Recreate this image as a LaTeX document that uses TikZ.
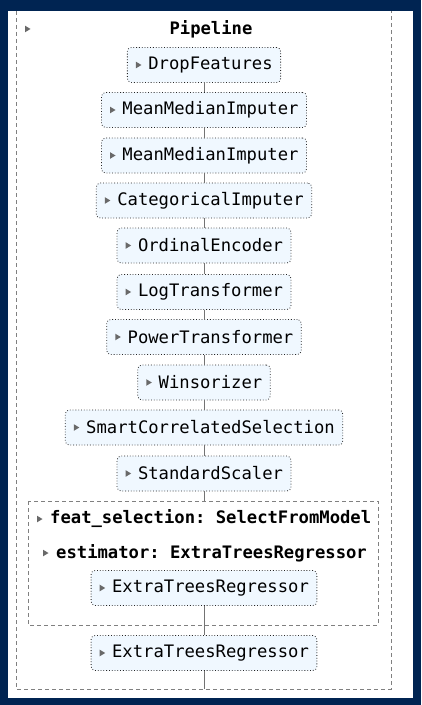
\documentclass[tikz,border=0pt]{standalone}
\usepackage{fontspec}
\setmonofont{DejaVu Sans Mono}
\usepackage{tikz}
\usetikzlibrary{calc}
\definecolor{navy}{RGB}{0,36,82}
\definecolor{boxfill}{RGB}{240,248,255}
\definecolor{trigray}{RGB}{105,105,105}
\def\gap{\hspace*{13bp}}
\def\tri#1{\fill[trigray, shift={(#1)}] (0,-3.3) -- (5.5,0) -- (0,3.3) -- cycle;}
\tikzset{
	stepbox/.style={draw=black!85, dotted, line width=0.8bp, rounded corners=4bp, fill=boxfill,
		minimum height=35bp, inner xsep=8bp, inner ysep=0pt, font=\ttfamily\fontsize{17.2bp}{20bp}\selectfont},
	boxline/.style={draw=black!55, line width=0.8bp},
	dashbox/.style={draw=black!50, line width=1bp, dash pattern=on 4bp off 3bp},
	headlabel/.style={font=\ttfamily\bfseries\fontsize{17.2bp}{20bp}\selectfont, inner sep=0pt}
}

\begin{document}
\begin{tikzpicture}[x=1bp, y=-1bp]
		%%%%% START %%%%%
		
		\fill[navy] (0, 0) rectangle (421, 705);
		\fill[white] (8, 11) rectangle (413, 698);
		\useasboundingbox (0, 0) rectangle (421, 705);
		
		% outer pipeline box
		\draw[dashbox] (16, 11) -- (16, 689) -- (391, 689) -- (391, 11);
		\coordinate (pipetri) at (25, 29);
		\tri{pipetri}
		\node[headlabel] (pipe) at (211, 29) {Pipeline};
		
		% inner feat_selection box
		\draw[dashbox] (28, 501) rectangle (378, 625);
		\coordinate (intop) at (204, 501);
		\coordinate (outbot) at (204, 689);
		
		\node[headlabel, anchor=west] (featlab) at (37, 519) {\gap feat\_selection: SelectFromModel};
		\node[headlabel, anchor=west] (estlab) at (43, 553) {\gap estimator: ExtraTreesRegressor};
		
		% steps
		\node[stepbox] (drop) at (204, 65) {\gap DropFeatures};
		\node[stepbox] (mmia) at (204, 110) {\gap MeanMedianImputer};
		\node[stepbox] (mmib) at (204, 155.5) {\gap MeanMedianImputer};
		\node[stepbox] (cati) at (204, 200.5) {\gap CategoricalImputer};
		\node[stepbox] (ordenc) at (204, 245.5) {\gap OrdinalEncoder};
		\node[stepbox] (logtr) at (204, 292) {\gap LogTransformer};
		\node[stepbox] (powtr) at (204, 337) {\gap PowerTransformer};
		\node[stepbox] (wins) at (204, 382.5) {\gap Winsorizer};
		\node[stepbox] (smart) at (204, 427.5) {\gap SmartCorrelatedSelection};
		\node[stepbox] (scaler) at (204, 473.5) {\gap StandardScaler};
		\node[stepbox] (etrin) at (204, 588) {\gap ExtraTreesRegressor};
		\node[stepbox] (etrout) at (204, 653) {\gap ExtraTreesRegressor};
		
		% little triangles
		\foreach \n in {drop,mmia,mmib,cati,ordenc,logtr,powtr,wins,smart,scaler,etrin,etrout}
			{\tri{$(\n.west)+(9,0)$}}
		\tri{featlab.west}
		\tri{estlab.west}
		
		% connectors
		\draw[boxline] (drop) -- (mmia);
		\draw[boxline] (mmia) -- (mmib);
		\draw[boxline] (mmib) -- (cati);
		\draw[boxline] (cati) -- (ordenc);
		\draw[boxline] (ordenc) -- (logtr);
		\draw[boxline] (logtr) -- (powtr);
		\draw[boxline] (powtr) -- (wins);
		\draw[boxline] (wins) -- (smart);
		\draw[boxline] (smart) -- (scaler);
		\draw[boxline] (scaler) -- (intop);
		\draw[boxline] (etrin) -- (etrout);
		\draw[boxline] (etrout) -- (outbot);
		
		%%%%% END %%%%%
	\end{tikzpicture}
\end{document}
